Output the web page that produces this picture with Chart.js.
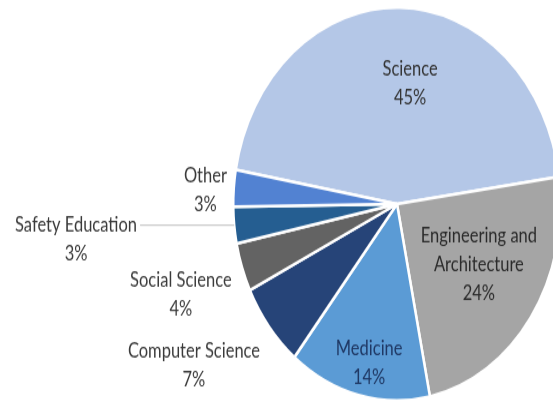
<!DOCTYPE html>
<html>
<head>
<meta charset="utf-8">
<script src="https://cdn.jsdelivr.net/npm/chart.js@4.4.0/dist/chart.umd.min.js"></script>
<style>
  html, body { margin: 0; padding: 0; background: #fff; }
  #clip { width: 553px; height: 403px; overflow: hidden; position: relative; }
  #stretch { width: 580px; height: 336px; transform: scaleY(1.2); transform-origin: 0 0; }
</style>
</head>
<body>
<div id="clip"><div id="stretch"><canvas id="pie"></canvas></div></div>
<script>
'use strict';

const categories = ['Science', 'Engineering and Architecture', 'Medicine', 'Computer Science',
                    'Social Science', 'Safety Education', 'Other'];
const shares = [45, 24, 14, 7, 4, 3, 3];
const sliceColors = ['#b4c7e7', '#a5a5a5', '#5b9bd5', '#264478', '#636363', '#255e91', '#5282d2'];

// label text split in lines, placed relative to pie centre (in radius units)
const labelLines = [
    ['Science'], ['Engineering and', 'Architecture'], ['Medicine'], ['Computer Science'],
    ['Social Science'], ['Safety Education'], ['Other']
];
const labelPlace = [
    {x: 0.08, y: -0.61}, {x: 0.50, y: 0.31}, {x: -0.17, y: 0.81}, {x: -1.24, y: 0.82},
    {x: -1.32, y: 0.46}, {x: -1.96, y: 0.18}, {x: -1.17, y: -0.07}
];
const labelColors = ['#333333', '#2b2b2b', '#1f3864', '#3a3a3a', '#3a3a3a', '#3a3a3a', '#3a3a3a'];

let sliceLabels = {
    id: 'sliceLabels',
    afterDatasetsDraw(chart) {
        let ctx = chart.ctx;
        let arcs = chart.getDatasetMeta(0).data;
        ctx.save();
        ctx.font = '16.5px Lato, "Open Sans", sans-serif';
        ctx.textAlign = 'center';
        ctx.textBaseline = 'middle';
        arcs.forEach((arc, i) => {
            let r = arc.outerRadius;
            let cx = arc.x + labelPlace[i].x * r;
            let cy = arc.y + labelPlace[i].y * r;
            let lines = labelLines[i].concat([shares[i] + '%']);
            let lh = 24;
            let top = cy - (lines.length - 1) * lh / 2;
            ctx.fillStyle = labelColors[i];
            lines.forEach((t, k) => ctx.fillText(t, cx, top + k * lh));

            if (categories[i] === 'Safety Education') {
                let mid = (arc.startAngle + arc.endAngle) / 2;
                let ex = arc.x + Math.cos(mid) * r;
                let ey = arc.y + Math.sin(mid) * r;
                let w = ctx.measureText(labelLines[i][0]).width;
                ctx.strokeStyle = '#bfbfbf';
                ctx.lineWidth = 1;
                ctx.beginPath();
                ctx.moveTo(ex, ey);
                ctx.lineTo(cx + w / 2 + 3, ey);
                ctx.stroke();
            }
        });
        ctx.restore();
    }
};

new Chart(document.getElementById('pie'), {
    type: 'pie',
    data: {
        labels: categories,
        datasets: [{
            data: shares,
            backgroundColor: sliceColors,
            borderColor: '#ffffff',
            borderWidth: 2.5,
        }]
    },
    options: {
        responsive: true,
        maintainAspectRatio: false,
        animation: false,
        rotation: 280,
        layout: { padding: { left: 232, right: 18, top: 5, bottom: 1 } },
        plugins: {
            legend: { display: false },
            tooltip: { enabled: false },
        }
    },
    plugins: [sliceLabels]
});
</script>
</body>
</html>
